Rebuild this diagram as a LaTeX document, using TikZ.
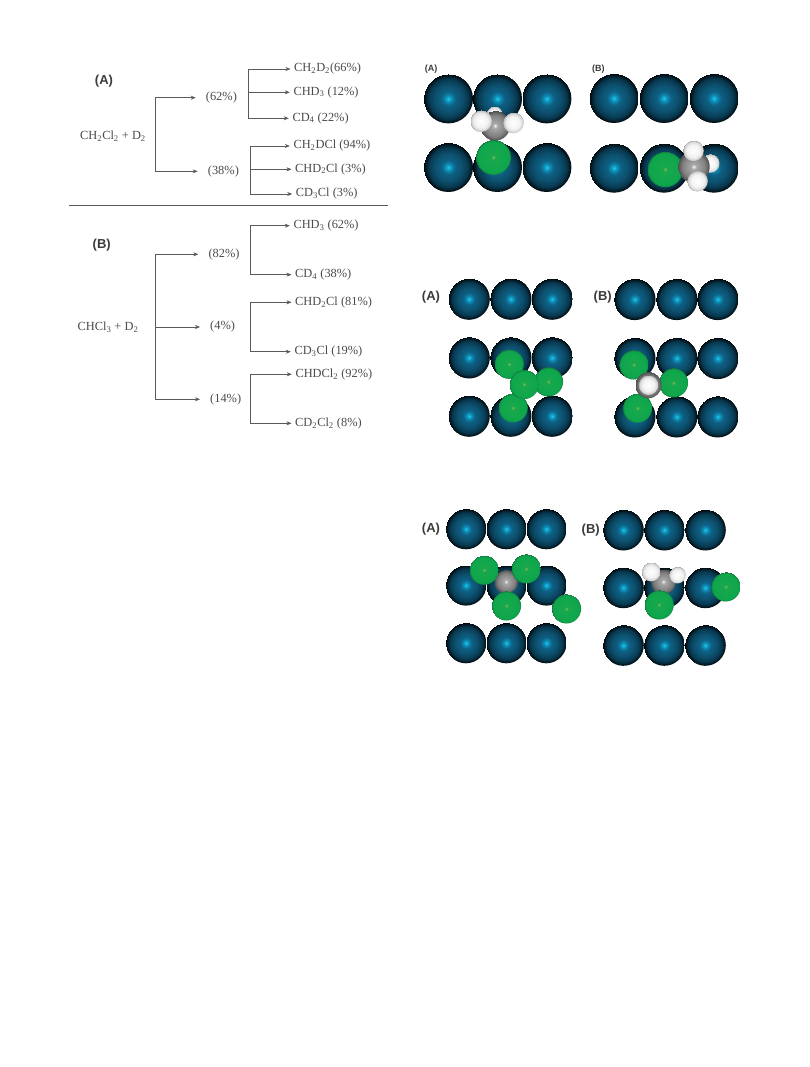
\documentclass[tikz,border=0pt]{standalone}
\usepackage{fontspec}
\setmainfont{Liberation Serif}
\newfontfamily\labelfont{Liberation Sans}
\usetikzlibrary{arrows.meta}
\definecolor{inktext}{HTML}{4A4A4A}
\definecolor{inkline}{HTML}{5A5A5A}
\pgfdeclareradialshading{metalball}{\pgfpoint{0bp}{0bp}}{%
  rgb(0bp)=(0.10,0.80,0.95);
  rgb(3bp)=(0.06,0.56,0.72);
  rgb(7bp)=(0.05,0.38,0.52);
  rgb(14bp)=(0.05,0.31,0.43);
  rgb(20bp)=(0.03,0.22,0.31);
  rgb(24bp)=(0.01,0.07,0.10);
  rgb(25bp)=(0.0,0.02,0.03)}
\pgfdeclareradialshading{chlorball}{\pgfpoint{0bp}{0bp}}{%
  rgb(0bp)=(0.55,0.72,0.35);
  rgb(3bp)=(0.10,0.66,0.30);
  rgb(22.5bp)=(0.05,0.65,0.30);
  rgb(25bp)=(0.10,0.45,0.22)}
\pgfdeclareradialshading{carbonball}{\pgfpoint{0bp}{0bp}}{%
  rgb(0bp)=(0.98,0.98,0.98);
  rgb(4bp)=(0.66,0.66,0.66);
  rgb(18bp)=(0.50,0.50,0.50);
  rgb(25bp)=(0.30,0.30,0.30)}
\pgfdeclareradialshading{hydroball}{\pgfpoint{0bp}{0bp}}{%
  rgb(0bp)=(1,1,1);
  rgb(15bp)=(0.95,0.95,0.95);
  rgb(22bp)=(0.84,0.84,0.84);
  rgb(25bp)=(0.62,0.62,0.62)}
\newcommand{\subn}[1]{\textsubscript{#1}}
\tikzset{
  conn/.style={draw=inkline,line width=.6pt,-{Stealth[length=5pt,width=4pt]}},
  reactant/.style={text=inktext,font=\fontsize{12.4}{14}\selectfont,inner sep=0pt},
  pct/.style={reactant,anchor=west,inner xsep=10pt,inner ysep=0pt,text height=8.5pt,text depth=2.7pt},
  product/.style={reactant,anchor=west,inner xsep=3.5pt,inner ysep=0pt,text height=8.5pt,text depth=2.7pt},
  tag/.style={text=inktext!80!black,font=\labelfont\bfseries\fontsize{13}{15}\selectfont,inner sep=0pt},
  tagsmall/.style={tag,font=\labelfont\bfseries\fontsize{9}{11}\selectfont},
  metal/.style={shading=metalball},
  chlor/.style={shading=chlorball},
  carbon/.style={shading=carbonball},
  hydro/.style={shading=hydroball}
}
\begin{document}
\begin{tikzpicture}[x=1pt,y=-1pt]
  \useasboundingbox (0,0) rectangle (809,1067);
  % scheme (A)
  \node[tag] (tagA) at (104,81) {(A)};
  \node[reactant] (dichloro) at (113,136) {CH\subn{2}Cl\subn{2} + D\subn{2}};
  \coordinate (stemA) at (155,135);
  \coordinate (forkAa) at (248.7,92.3);
  \coordinate (forkAb) at (250,169.3);
  \node[pct] (pAa) at (195.7,97.7) {(62\%)};
  \node[pct] (pAb) at (197.7,171.3) {(38\%)};
  \draw[conn] (stemA) |- (pAa);
  \draw[conn] (stemA) |- (pAb);
  \foreach \nm/\f/\px/\py/\txt in {
    a1/forkAa/290.5/69/{CH\subn{2}D\subn{2}(66\%)},
    a2/forkAa/289.8/92.3/{CHD\subn{3} (12\%)},
    a3/forkAa/288.8/118.3/{CD\subn{4} (22\%)},
    b1/forkAb/289.8/146/{CH\subn{2}DCl (94\%)},
    b2/forkAb/291.5/169.3/{CHD\subn{2}Cl (3\%)},
    b3/forkAb/292.2/194/{CD\subn{3}Cl (3\%)}} {
    \node[product] (\nm) at (\px,\py) {\txt};
    \draw[conn] (\f) |- (\nm);
  }
  \coordinate (ruleL) at (69.3,205.3);
  \coordinate (ruleR) at (387.7,205.3);
  \draw[inkline,line width=.7pt] (ruleL) -- (ruleR);
  % scheme (B)
  \node[tag] (tagB) at (101.7,245) {(B)};
  \node[reactant] (chloroform) at (108,327.3) {CHCl\subn{3} + D\subn{2}};
  \coordinate (stemB) at (155.7,327);
  \coordinate (forkBa) at (250,250);
  \coordinate (forkBb) at (250,327);
  \coordinate (forkBc) at (250.7,399);
  \node[pct] (pBa) at (198.3,254.3) {(82\%)};
  \node[pct] (pBb) at (200,327) {(4\%)};
  \node[pct] (pBc) at (200,399.3) {(14\%)};
  \draw[conn] (stemB) |- (pBa);
  \draw[conn] (stemB) -- (pBb);
  \draw[conn] (stemB) |- (pBc);
  \foreach \nm/\f/\px/\py/\txt in {
    c1/forkBa/289.8/225.7/{CHD\subn{3} (62\%)},
    c2/forkBa/291.5/274.7/{CD\subn{4} (38\%)},
    d1/forkBb/291.5/302.3/{CHD\subn{2}Cl (81\%)},
    d2/forkBb/290.8/351.7/{CD\subn{3}Cl (19\%)},
    e1/forkBc/291.8/374.3/{CHDCl\subn{2} (92\%)},
    e2/forkBc/291.5/423.3/{CD\subn{2}Cl\subn{2} (8\%)}} {
    \node[product] (\nm) at (\px,\py) {\txt};
    \draw[conn] (\f) |- (\nm);
  }
  % top pair
  \node[tagsmall] (tagTa) at (431,69) {(A)};
  \node[tagsmall] (tagTb) at (598.3,69) {(B)};
  \foreach \cx in {448.3,497.3,546.7} {
    \foreach \cy in {98.7,167.3} \path[metal] (\cx,\cy) circle (24.7);
  }
  \foreach \cx in {614,664,714} {
    \foreach \cy in {98.3,168} \path[metal] (\cx,\cy) circle (24.7);
  }
  \path[hydro] (494.3,114) circle (8);
  \path[carbon] (495,125.7) circle (15);
  \path[hydro] (481,121) circle (11);
  \path[hydro] (513.3,122.7) circle (10.5);
  \path[chlor] (493.3,157.3) circle (17.7);
  \path[hydro] (710,163.3) circle (9.5);
  \path[chlor] (665,169.3) circle (18);
  \path[carbon] (693.7,166.7) circle (16);
  \path[hydro] (693.3,150.7) circle (10.5);
  \path[hydro] (697.3,181) circle (10.5);
  % middle pair
  \node[tag] (tagMa) at (431,296.7) {(A)};
  \node[tag] (tagMb) at (602.7,296.7) {(B)};
  \foreach \cx in {469,510.7,552} {
    \foreach \cy in {299,357.7,416} \path[metal] (\cx,\cy) circle (20.8);
  }
  \foreach \cx in {634.7,676.7,717.7} {
    \foreach \cy in {299.3,358.3,416.7} \path[metal] (\cx,\cy) circle (20.8);
  }
  \foreach \cx/\cy in {509/364,548.3/381.7,513/407.7,524/384.3,633.7/364.7,673.3/382.7,637.3/408}
    \path[chlor] (\cx,\cy) circle (14.8);
  \path[carbon] (648.3,385) circle (13.3);
  \path[hydro] (648.3,385) circle (10);
  % bottom pair
  \node[tag] (tagBa) at (431,529.3) {(A)};
  \node[tag] (tagBb) at (590.7,530) {(B)};
  \foreach \cx in {466,506.3,546.3} {
    \foreach \cy in {529,585.3,643} \path[metal] (\cx,\cy) circle (20.3);
  }
  \foreach \cx in {623.3,664.3,705.3} {
    \foreach \cy in {530,587.7,645.3} \path[metal] (\cx,\cy) circle (20.5);
  }
  \path[carbon] (506,581.7) circle (12);
  \path[carbon] (663.3,581.7) circle (12.7);
  \path[hydro] (651,571.7) circle (9.7);
  \path[hydro] (677.3,575) circle (8.5);
  \foreach \cx/\cy in {484/570,526/568.7,506.3/605.7,566.3/608.7,659/604.7,725.7/586.7}
    \path[chlor] (\cx,\cy) circle (14.8);
\end{tikzpicture}
\end{document}
